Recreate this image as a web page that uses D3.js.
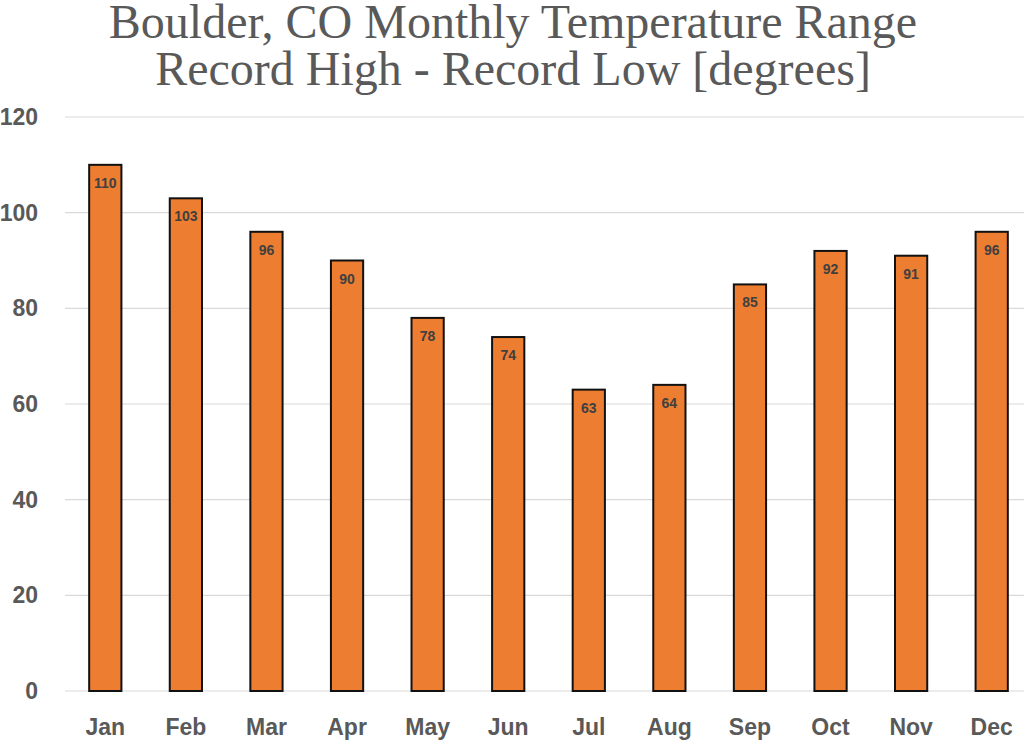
<!DOCTYPE html>
<html>
<head>
<meta charset="utf-8">
<script src="https://cdn.jsdelivr.net/npm/d3@7"></script>
<style>
  html, body { margin: 0; padding: 0; background: #fff; overflow: hidden; }
  svg { display: block; }
  .title { font-family: "Liberation Serif", "DejaVu Serif", serif; fill: #595959; }
  .tick-y, .tick-x { font-family: "Liberation Sans", Arial, sans-serif; font-weight: bold; fill: #595959; }
  .val { font-family: "Liberation Sans", Arial, sans-serif; font-weight: bold; fill: #404040; }
</style>
</head>
<body>
<svg id="chart" width="1024" height="744"></svg>
<script>
// ── data ────────────────────────────────────────────────
const months = ['Jan', 'Feb', 'Mar', 'Apr', 'May', 'Jun', 'Jul', 'Aug', 'Sep', 'Oct', 'Nov', 'Dec'];
const range  = [110, 103, 96, 90, 78, 74, 63, 64, 85, 92, 91, 96];
const yTicks = [0, 20, 40, 60, 80, 100, 120];
const titleLines = ['Boulder, CO Monthly Temperature Range', 'Record High - Record Low [degrees]'];

// ── layout ──────────────────────────────────────────────
const svg = d3.select('#chart');
const plotL = 65, plotR = 1032, plotT = 117, plotB = 691;

const x = d3.scaleBand().domain(months).range([plotL, plotR]).paddingInner(0.6).paddingOuter(0.3);
const y = d3.scaleLinear().domain([0, 120]).range([plotB, plotT]);

// title (two lines)
svg.append('g').selectAll('text')
  .data(titleLines).enter().append('text')
  .attr('class', 'title')
  .attr('x', 513)
  .attr('y', (d, i) => 38 + i * 47)
  .attr('text-anchor', 'middle')
  .attr('font-size', 48)
  .text(d => d);

// gridlines
svg.append('g').selectAll('line')
  .data(yTicks).enter().append('line')
  .attr('x1', plotL).attr('x2', 1024)
  .attr('y1', d => y(d)).attr('y2', d => y(d))
  .attr('stroke', '#d9d9d9').attr('stroke-width', 1.2);

// y tick labels
svg.append('g').selectAll('text')
  .data(yTicks).enter().append('text')
  .attr('class', 'tick-y')
  .attr('x', 38).attr('y', d => y(d))
  .attr('dy', '0.35em')
  .attr('text-anchor', 'end')
  .attr('font-size', 23)
  .text(d => d);

// bars
const data = months.map((m, i) => ({ m, v: range[i] }));
svg.append('g').selectAll('rect')
  .data(data).enter().append('rect')
  .attr('x', d => x(d.m))
  .attr('y', d => y(d.v))
  .attr('width', x.bandwidth())
  .attr('height', d => y(0) - y(d.v))
  .attr('fill', '#ED7D31')
  .attr('stroke', '#111')
  .attr('stroke-width', 2);

// value labels, inside the top of each bar
svg.append('g').selectAll('text')
  .data(data).enter().append('text')
  .attr('class', 'val')
  .attr('x', d => x(d.m) + x.bandwidth() / 2)
  .attr('y', d => y(d.v) + 23)
  .attr('text-anchor', 'middle')
  .attr('font-size', 14)
  .text(d => d.v);

// x labels
svg.append('g').selectAll('text')
  .data(months).enter().append('text')
  .attr('class', 'tick-x')
  .attr('x', d => x(d) + x.bandwidth() / 2)
  .attr('y', 735)
  .attr('text-anchor', 'middle')
  .attr('font-size', 23)
  .text(d => d);
</script>
</body>
</html>
